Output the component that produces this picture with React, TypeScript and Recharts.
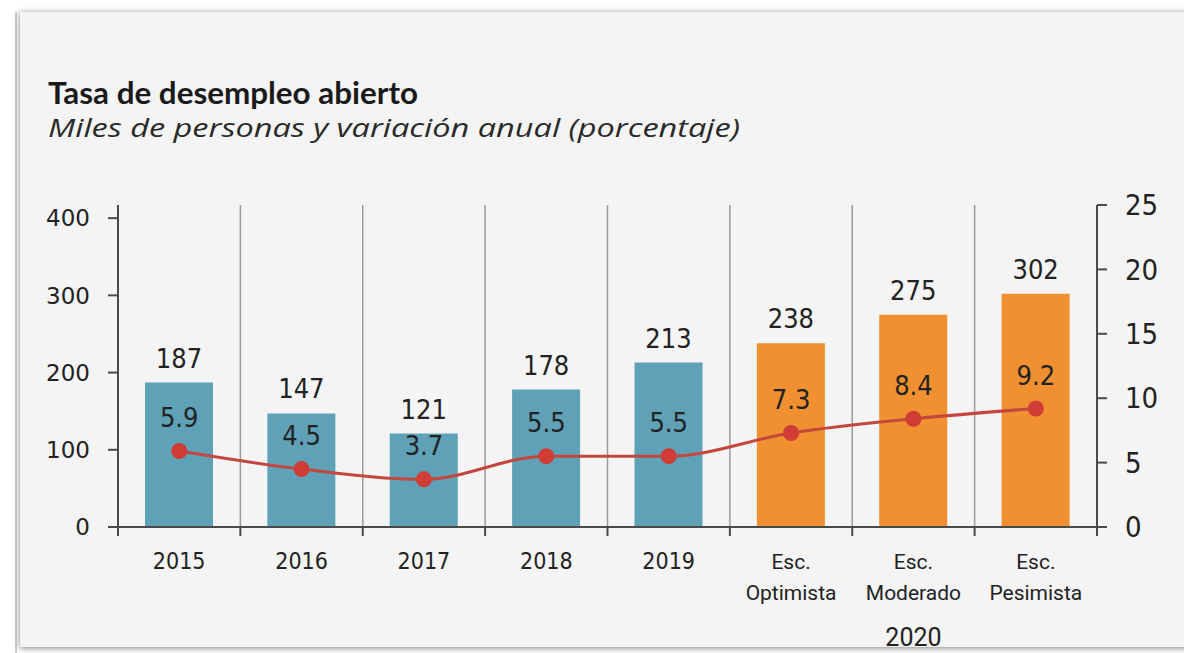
import React from 'react';
import {
  ComposedChart, Bar, Line, XAxis, YAxis, CartesianGrid, Cell, LabelList,
} from 'recharts';

// ── Datos ──────────────────────────────────────────────────

const CATEGORIAS = ['2015', '2016', '2017', '2018', '2019', 'Esc. Optimista', 'Esc. Moderado', 'Esc. Pesimista'];
const ETIQUETAS = [['2015'], ['2016'], ['2017'], ['2018'], ['2019'], ['Esc.', 'Optimista'], ['Esc.', 'Moderado'], ['Esc.', 'Pesimista']];
const PERSONAS = [187, 147, 121, 178, 213, 238, 275, 302]; // miles de personas
const TASA = [5.9, 4.5, 3.7, 5.5, 5.5, 7.3, 8.4, 9.2];      // porcentaje
const ESCENARIO = [false, false, false, false, false, true, true, true];
const GRUPO_LABEL = '2020';
const GRUPO_INDEX = 6;
const TICKS_IZQ = [0, 100, 200, 300, 400];
const TICKS_DER = [0, 5, 10, 15, 20, 25];

const data = CATEGORIAS.map((c, i) => ({
  name: c,
  personas: PERSONAS[i],
  tasa: TASA[i],
  escenario: ESCENARIO[i],
}));

// ── Estilos ────────────────────────────────────────────────

const AZUL = '#5fa1b7';
const NARANJA = '#f09030';
const ROJO_LINEA = '#c4473f';
const ROJO_PUNTO = '#d03d36';
const EJE = '#4a4a4a';
const GRID = '#9a9a9a';
const TEXTO = '#222';

const NARROW = "'Liberation Sans Narrow', 'DejaVu Sans Condensed', Roboto, sans-serif";
const SANS = "Roboto, 'Noto Sans', sans-serif";

const W = 1184;
const H = 653;
const PLOT_LEFT = 118;
const PLOT_RIGHT = 1097;
const BAND = (PLOT_RIGHT - PLOT_LEFT) / CATEGORIAS.length;

function CategoryTick({ x, y, index }: any) {
  const lines = ETIQUETAS[index] ?? [];
  const last = index === CATEGORIAS.length - 1;
  return (
    <g>
      <line x1={x - BAND / 2} x2={x - BAND / 2} y1={y} y2={y + 9} stroke={EJE} strokeWidth={2} />
      {last && <line x1={x + BAND / 2} x2={x + BAND / 2} y1={y} y2={y + 9} stroke={EJE} strokeWidth={2} />}
      {lines.map((t: string, i: number) => (
        <text
          key={i}
          x={x}
          y={y + 42 + i * 31}
          textAnchor="middle"
          fill={TEXTO}
          style={{
            fontFamily: /^\d+$/.test(t) ? NARROW : SANS,
            fontSize: /^\d+$/.test(t) ? 23 : 21,
          }}
        >
          {t}
        </text>
      ))}
      {index === GRUPO_INDEX && (
        <text x={x} y={y + 119} textAnchor="middle" fill={TEXTO} style={{ fontFamily: SANS, fontSize: 25 }}>
          {GRUPO_LABEL}
        </text>
      )}
    </g>
  );
}

export default function App() {
  return (
    <div style={{ position: 'absolute', left: 0, top: 0, width: W, height: H, background: '#fff', overflow: 'hidden' }}>
      {/* marco */}
      <div style={{ position: 'absolute', left: 15, top: 12, width: 2, height: H, background: '#cfcfcf' }} />
      <div style={{
        position: 'absolute', left: 20, top: 12, width: W + 20, height: H - 18,
        background: '#f4f4f4', boxShadow: '0 1px 6px rgba(0,0,0,0.5)',
      }} />

      <svg style={{ position: 'absolute', left: 0, top: 0 }} width={W} height={160}>
        <text
          x={48}
          y={104}
          textLength={370}
          lengthAdjust="spacingAndGlyphs"
          fill="#1a1a1a"
          style={{ fontFamily: "Lato, 'Open Sans', sans-serif", fontWeight: 700, fontSize: 31 }}
        >
          Tasa de desempleo abierto
        </text>
        <text
          x={48}
          y={137}
          textLength={692}
          lengthAdjust="spacingAndGlyphs"
          fill="#2a2a2a"
          style={{ fontFamily: "'Open Sans', sans-serif", fontStyle: 'italic', fontSize: 26 }}
        >
          Miles de personas y variación anual (porcentaje)
        </text>
      </svg>

      <div style={{ position: 'absolute', left: 0, top: 0 }}>
        <ComposedChart
          width={W}
          height={H}
          data={data}
          margin={{ top: 205, right: W - PLOT_RIGHT - 80, bottom: H - 527 - 100, left: PLOT_LEFT - 80 }}
        >
          <CartesianGrid
            horizontal={false}
            vertical
            stroke={GRID}
            strokeWidth={1.5}
            verticalCoordinatesGenerator={({ offset }: any) =>
              CATEGORIAS.slice(1).map((_, i) => offset.left + ((i + 1) * offset.width) / CATEGORIAS.length)
            }
          />
          <XAxis
            dataKey="name"
            height={100}
            interval={0}
            tickSize={0}
            tickMargin={0}
            tickLine={false}
            axisLine={{ stroke: EJE, strokeWidth: 2 }}
            tick={<CategoryTick />}
          />
          <YAxis
            yAxisId="izq"
            width={80}
            domain={[0, 417]}
            ticks={TICKS_IZQ}
            tickSize={10}
            tickMargin={18}
            axisLine={{ stroke: EJE, strokeWidth: 2 }}
            tickLine={{ stroke: EJE, strokeWidth: 2 }}
            tick={{ fill: TEXTO, fontSize: 23, fontFamily: "'DejaVu Sans', sans-serif" }}
          />
          <YAxis
            yAxisId="der"
            orientation="right"
            width={80}
            domain={[0, 25]}
            ticks={TICKS_DER}
            tickSize={10}
            tickMargin={18}
            axisLine={{ stroke: EJE, strokeWidth: 2 }}
            tickLine={{ stroke: EJE, strokeWidth: 2 }}
            tick={{ fill: TEXTO, fontSize: 29, fontFamily: NARROW }}
          />
          <Bar dataKey="personas" yAxisId="izq" barSize={68} isAnimationActive={false}>
            {data.map((d) => (
              <Cell key={d.name} fill={d.escenario ? NARANJA : AZUL} />
            ))}
            <LabelList
              dataKey="personas"
              position="top"
              offset={15}
              fill={TEXTO}
              style={{ fontSize: 27, fontFamily: NARROW }}
            />
          </Bar>
          <Line
            dataKey="tasa"
            yAxisId="der"
            type="monotone"
            stroke={ROJO_LINEA}
            strokeWidth={3}
            dot={{ r: 8, fill: ROJO_PUNTO, stroke: 'none' }}
            isAnimationActive={false}
          >
            <LabelList
              dataKey="tasa"
              position="top"
              offset={24}
              fill={TEXTO}
              style={{ fontSize: 27, fontFamily: NARROW }}
            />
          </Line>
        </ComposedChart>
      </div>
    </div>
  );
}
